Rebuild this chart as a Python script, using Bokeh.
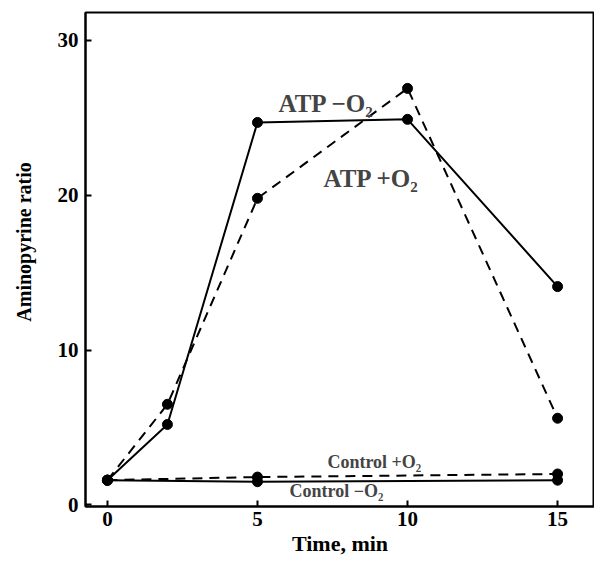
from bokeh.plotting import figure
from bokeh.models import Range1d, FixedTicker, Label
from bokeh.embed import file_html
from bokeh.resources import INLINE

time_atp = [0, 2, 5, 10, 15]
atp_minus_o2 = [1.6, 5.2, 24.7, 24.9, 14.1]
atp_plus_o2 = [1.6, 6.5, 19.8, 26.9, 5.6]
time_ctrl = [0, 5, 15]
ctrl_plus_o2 = [1.6, 1.8, 2.0]
ctrl_minus_o2 = [1.6, 1.5, 1.6]

FONT = "Liberation Serif"

p = figure(width=594, height=558, output_backend="svg", toolbar_location=None,
           x_range=Range1d(-0.73, 16.23), y_range=Range1d(-0.1, 31.8),
           min_border_left=85, min_border_top=12, min_border_right=0, min_border_bottom=51)
p.grid.visible = False
p.outline_line_color = "black"
p.outline_line_width = 2

for ax in (p.xaxis[0], p.yaxis[0]):
    ax.axis_line_width = 2
    ax.major_tick_in = 6
    ax.major_tick_out = 0
    ax.minor_tick_line_color = None
    ax.major_tick_line_width = 2
    ax.major_label_text_font = FONT
    ax.major_label_text_font_size = "21px"
    ax.major_label_text_font_style = "bold"
    ax.major_label_text_color = "black"
    ax.axis_label_text_font = FONT
    ax.axis_label_text_font_style = "bold"
    ax.axis_label_text_color = "black"
p.xaxis.axis_label_text_font_size = "22px"
p.yaxis.axis_label_text_font_size = "20px"
p.xaxis.ticker = FixedTicker(ticks=[0, 5, 10, 15])
p.yaxis.ticker = FixedTicker(ticks=[0, 10, 20, 30])
p.xaxis.axis_label = "Time, min"
p.yaxis.axis_label = "\u00a0" * 7 + "Aminopyrine ratio"
p.xaxis.major_label_standoff = 5
p.yaxis.major_label_standoff = 7
p.xaxis.axis_label_standoff = 2
p.yaxis.axis_label_standoff = 20

p.line(time_atp, atp_minus_o2, line_color="black", line_width=2)
p.line(time_atp, atp_plus_o2, line_color="black", line_width=2, line_dash="10 7")
p.line(time_ctrl, ctrl_plus_o2, line_color="black", line_width=2, line_dash="10 7")
p.line(time_ctrl, ctrl_minus_o2, line_color="black", line_width=2)
for xs, ys in ((time_atp, atp_minus_o2), (time_atp, atp_plus_o2),
               (time_ctrl, ctrl_plus_o2), (time_ctrl, ctrl_minus_o2)):
    p.scatter(xs, ys, size=10, color="black")

labels = [
    (5.7, 25.95, "ATP \u2212O\u2082", "25px"),
    (7.2, 21.05, "ATP +O\u2082", "25px"),
    (7.33, 2.75, "Control +O\u2082", "18px"),
    (6.07, 0.9, "Control \u2212O\u2082", "18px"),
]
for x, y, t, fs in labels:
    p.add_layout(Label(x=x, y=y, text=t, text_font=FONT, text_font_size=fs,
                       text_font_style="bold", text_baseline="alphabetic"))

open("out.html", "w").write(file_html(p, INLINE))
